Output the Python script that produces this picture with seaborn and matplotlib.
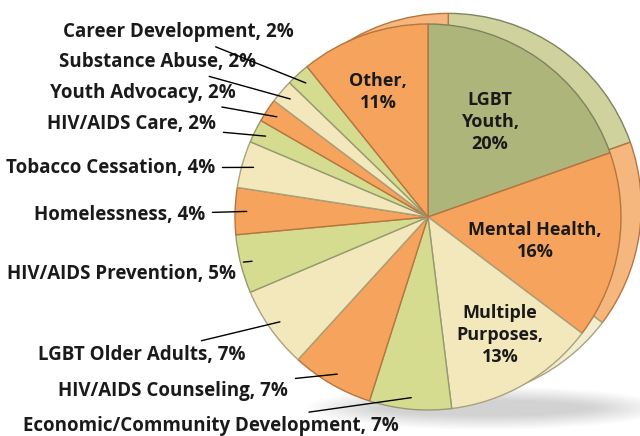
import numpy as np
import matplotlib
matplotlib.use("Agg")
import matplotlib.pyplot as plt
import seaborn as sns
from matplotlib.patches import Ellipse

# ── Data ───────────────────────────────────────────────────────────────────────
categories = [
    "LGBT Youth", "Mental Health", "Multiple Purposes",
    "Economic/Community Development", "HIV/AIDS Counseling",
    "LGBT Older Adults", "HIV/AIDS Prevention", "Homelessness",
    "Tobacco Cessation", "HIV/AIDS Care", "Youth Advocacy",
    "Substance Abuse", "Career Development", "Other",
]
shares = [20, 16, 13, 7, 7, 7, 5, 4, 4, 2, 2, 2, 2, 11]
inside_labels = {
    "LGBT Youth": "LGBT\nYouth,\n20%",
    "Mental Health": "Mental Health,\n16%",
    "Multiple Purposes": "Multiple\nPurposes,\n13%",
    "Other": "Other,\n11%",
}

# ── Style ──────────────────────────────────────────────────────────────────────
ORANGE, OLIVE, LGREEN, CREAM = "#F6A35D", "#AEB57B", "#D5DC90", "#F2E8BC"
face_colors = [OLIVE, ORANGE, CREAM, LGREEN, ORANGE, CREAM, LGREEN,
               ORANGE, CREAM, LGREEN, ORANGE, CREAM, LGREEN, ORANGE]
rim_map = {ORANGE: "#F5B77E", OLIVE: "#D0D29D", LGREEN: "#E2E6B0", CREAM: "#F3EDD0"}
edge_map = {ORANGE: "#B8743E", OLIVE: "#7D8260", LGREEN: "#959A70", CREAM: "#A8A27E"}
rim_colors = [rim_map[c] for c in face_colors]
edge_colors = [edge_map[c] for c in face_colors]

W, H = 640, 436
CX, CY, R = 428, 217, 193          # pie centre / radius in pixels (from top)
FONT = ["Open Sans", "DejaVu Sans"]
IN_SIZE, OUT_SIZE = 13, 13.5


def px(x, y):
    """pixel position (origin top-left) -> data coords (pie radius = 1)"""
    return (x - CX) / R, (CY - y) / R


sns.set_theme(style="white")
plt.rcParams["font.family"] = FONT

fig = plt.figure(figsize=(W / 100, H / 100), dpi=100)
ax = fig.add_axes([0, 0, 1, 1])

# soft shadow under the pie
for i in range(12):
    ax.add_patch(Ellipse((0.3, -0.99), 1.85 - i * 0.07, 0.22 - i * 0.013,
                         color="#707070", alpha=0.028, lw=0, zorder=0))

# back rim (gives the tilted 3-D look)
rim, _ = ax.pie(shares, colors=rim_colors, startangle=90, counterclock=False,
                radius=1.0, center=(0.105, 0.055),
                wedgeprops=dict(linewidth=1.0))
for w, e in zip(rim, edge_colors):
    w.set_edgecolor(e)
    w.set_zorder(1)

# front face
wedges, _ = ax.pie(shares, colors=face_colors, startangle=90, counterclock=False,
                   radius=1.0, center=(0, 0),
                   wedgeprops=dict(linewidth=1.0))
for w, e in zip(wedges, edge_colors):
    w.set_edgecolor(e)
    w.set_zorder(2)

# pie() resets limits, so fix the frame afterwards (1 unit = R pixels)
ax.set_aspect("auto")
ax.set_xlim(-CX / R, (W - CX) / R)
ax.set_ylim(-(H - CY) / R, CY / R)
ax.axis("off")

# inside labels
inside_pos = {"LGBT Youth": (490, 122), "Mental Health": (535, 241),
              "Multiple Purposes": (500, 335), "Other": (378, 92)}
for name, text in inside_labels.items():
    ax.text(*px(*inside_pos[name]), text, ha="center", va="center",
            fontsize=IN_SIZE, fontweight="bold", color="#1a1a1a",
            linespacing=1.3, zorder=5)

# outside labels with leader lines to the wedge middle
outside_pos = {
    "Career Development": (294, 32), "Substance Abuse": (256, 62),
    "Youth Advocacy": (236, 93), "HIV/AIDS Care": (216, 124),
    "Tobacco Cessation": (215, 168), "Homelessness": (205, 215),
    "HIV/AIDS Prevention": (236, 274), "LGBT Older Adults": (246, 355),
    "HIV/AIDS Counseling": (288, 391), "Economic/Community Development": (399, 426),
}
for w, name, val in zip(wedges, categories, shares):
    if name not in outside_pos:
        continue
    mid = np.deg2rad((w.theta1 + w.theta2) / 2)
    tip = (0.94 * np.cos(mid), 0.94 * np.sin(mid))
    tx, ty = px(*outside_pos[name])
    ax.annotate(f"{name}, {val}%", xy=tip, xytext=(tx, ty),
                ha="right", va="center", fontsize=OUT_SIZE, fontweight="bold",
                color="#1a1a1a", zorder=5,
                arrowprops=dict(arrowstyle="-", color="black", lw=1.0,
                                shrinkA=3, shrinkB=0))

fig.savefig("out.png", dpi=100)
